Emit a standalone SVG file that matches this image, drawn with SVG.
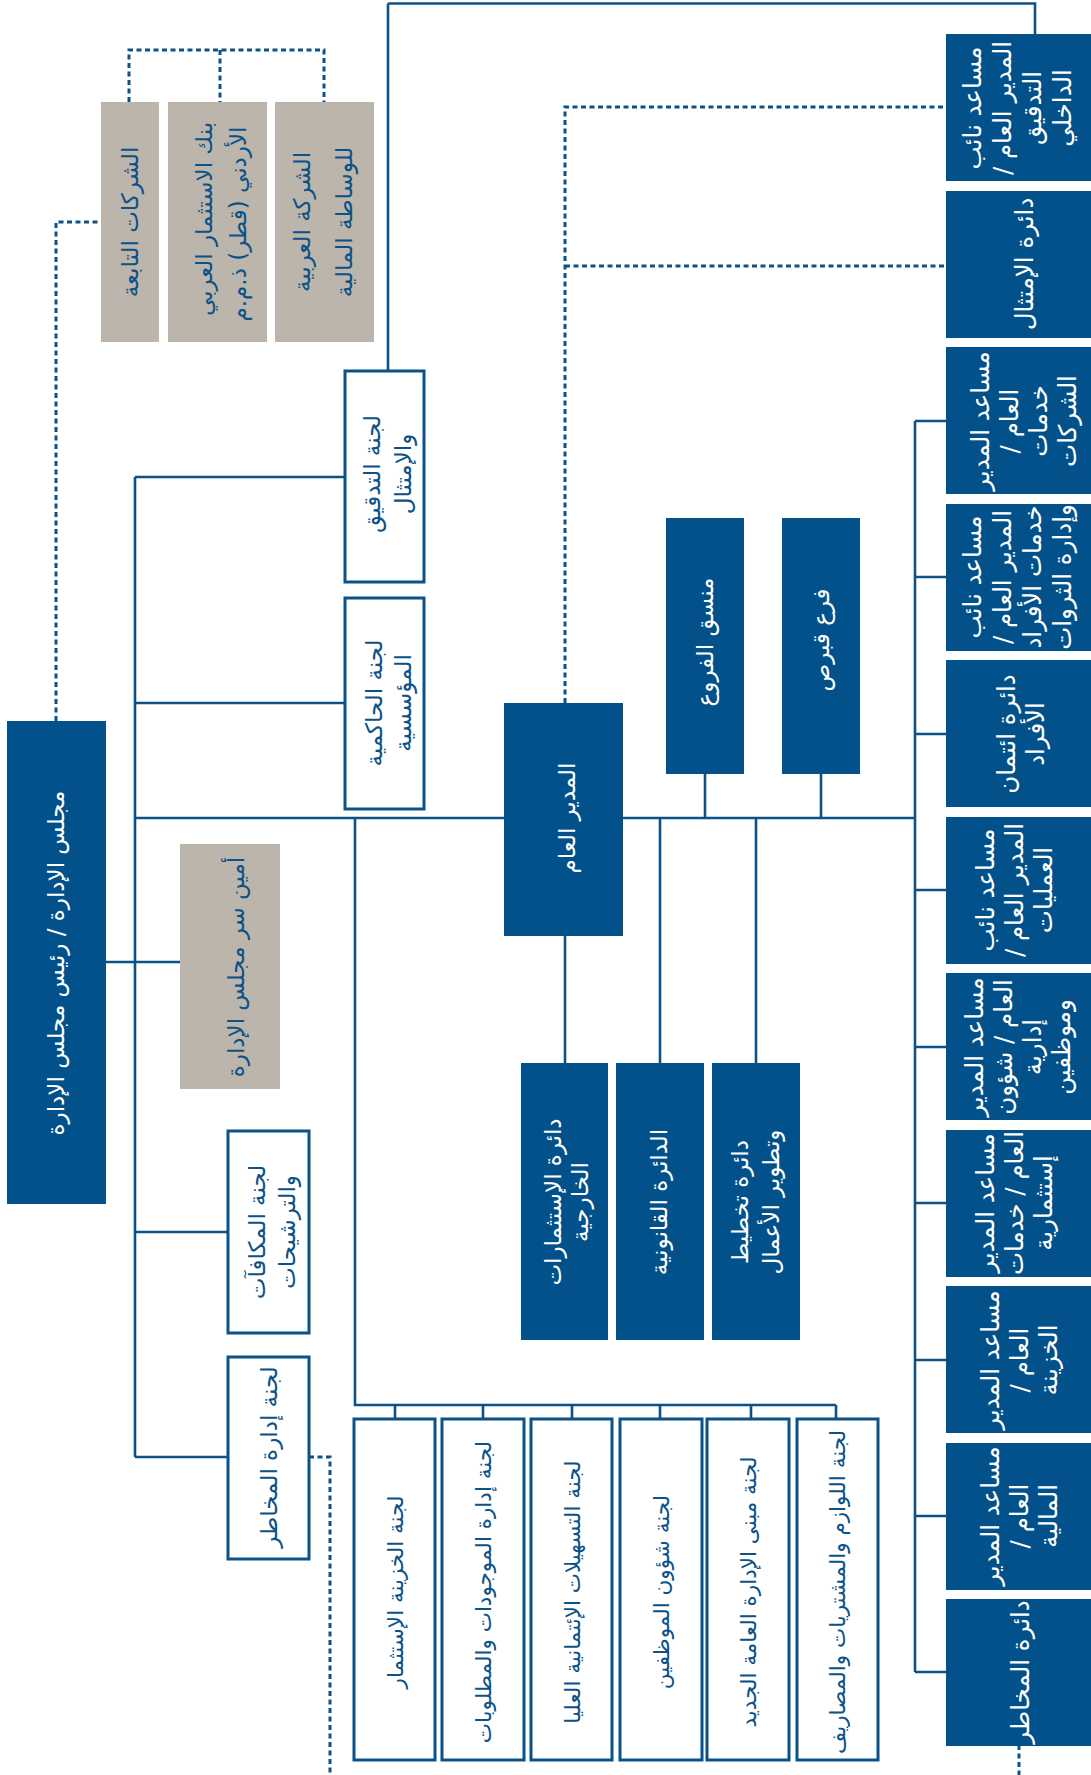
<svg xmlns="http://www.w3.org/2000/svg" width="1091" height="1775" viewBox="0 0 1091 1775">
<defs>
<style>
.navy{fill:#03518a}
.gray{fill:#bcb5ab}
.wbox{fill:#ffffff;stroke:#0b5288;stroke-width:3}
.ln{fill:none;stroke:#0b5288;stroke-width:2.6}
.dot{fill:none;stroke:#0b5288;stroke-width:3;stroke-dasharray:5 3.5}
text{font-family:"DejaVu Sans","Noto Sans",sans-serif;font-size:23px;text-anchor:middle;dominant-baseline:central;direction:rtl}
.tw{fill:#ffffff}
.tb{fill:#0b5288}
.rc{font-size:24.5px}
.mc{font-size:21.5px}
</style>
</defs>
<rect width="1091" height="1775" fill="#ffffff"/>

<g id="connectors">
<path class="ln" d="M388,3.5 H1035 V34 M388,3.5 V371"/>
<path class="ln" d="M135,477 V1457 M135,477 H345 M135,703 H345 M135,818 H504 M106,962 H180 M135,1232 H228 M135,1457 H228"/>
<path class="ln" d="M355,818 V1405 H836 M395,1405 V1419 M483,1405 V1419 M572,1405 V1419 M660,1405 V1419 M751,1405 V1419 M836,1405 V1419"/>
<path class="ln" d="M623,818 H915 M705,818 V774 M821,818 V774 M660,818 V1063 M756,818 V1063 M565,936 V1063"/>
<path class="ln" d="M915,421 V1672 M915,421 H946 M915,577 H946 M915,734 H946 M915,890 H946 M915,1047 H946 M915,1203 H946 M915,1360 H946 M915,1516 H946 M915,1672 H946"/>
<path class="dot" d="M56,721 V222 H101"/>
<path class="dot" d="M129,102 V50 H324 V102 M220,50 V102"/>
<path class="dot" d="M309,1457 H330 V1775"/>
<path class="dot" d="M565,703 V107 H946 M565,266 H946"/>
<path class="dot" d="M1019,1745 V1775"/>
</g>

<g id="chairman">
<rect class="navy" x="7" y="721" width="99" height="483"/>
<text class="tw" transform="translate(56,963) rotate(-90)">مجلس الإدارة / رئيس مجلس الإدارة</text>
</g>

<g id="subsidiaries">
<rect class="gray" x="101" y="102" width="58" height="240"/>
<text class="tb" transform="translate(130,222) rotate(-90)">الشركات التابعة</text>
</g>
<g id="jordan-bank-qatar">
<rect class="gray" x="168" y="102" width="99" height="240"/>
<text class="tb" transform="translate(204,219) rotate(-90)">بنك الاستثمار العربي</text>
<text class="tb" transform="translate(238,224) rotate(-90)">الأردني (قطر) ذ.م.م</text>
</g>
<g id="arab-brokerage">
<rect class="gray" x="275" y="102" width="99" height="240"/>
<text class="tb" transform="translate(302,222) rotate(-90)">الشركة العربية</text>
<text class="tb" transform="translate(344,222) rotate(-90)">للوساطة المالية</text>
</g>

<g id="board-secretary">
<rect class="gray" x="180" y="844" width="100" height="245"/>
<text class="tb" transform="translate(236,967) rotate(-90)">أمين سر مجلس الإدارة</text>
</g>

<g id="audit-committee">
<rect class="wbox" x="345" y="371" width="79" height="211"/>
<text class="tb" transform="translate(372,474) rotate(-90)">لجنة التدقيق</text>
<text class="tb" transform="translate(403,474) rotate(-90)">والإمتثال</text>
</g>
<g id="governance-committee">
<rect class="wbox" x="345" y="598" width="79" height="211"/>
<text class="tb" transform="translate(374,703) rotate(-90)">لجنة الحاكمية</text>
<text class="tb" transform="translate(403,703) rotate(-90)">المؤسسية</text>
</g>
<g id="remuneration-committee">
<rect class="wbox" x="228" y="1131" width="81" height="202"/>
<text class="tb" transform="translate(257,1232) rotate(-90)">لجنة المكافآت</text>
<text class="tb" transform="translate(287,1232) rotate(-90)">والترشيحات</text>
</g>
<g id="risk-committee">
<rect class="wbox" x="228" y="1357" width="81" height="202"/>
<text class="tb" transform="translate(269,1457) rotate(-90)">لجنة إدارة المخاطر</text>
</g>

<g id="general-manager">
<rect class="navy" x="504" y="703" width="119" height="233"/>
<text class="tw" transform="translate(567,818) rotate(-90)">المدير العام</text>
</g>
<g id="branches-coordinator">
<rect class="navy" x="666" y="518" width="78" height="256"/>
<text class="tw" transform="translate(705,642) rotate(-90)">منسق الفروع</text>
</g>
<g id="cyprus-branch">
<rect class="navy" x="782" y="518" width="78" height="256"/>
<text class="tw" transform="translate(821,640) rotate(-90)">فرع قبرص</text>
</g>

<g id="foreign-investments">
<rect class="navy" x="521" y="1063" width="87" height="277"/>
<text class="tw" transform="translate(553,1202) rotate(-90)">دائرة الإستثمارات</text>
<text class="tw" transform="translate(580,1202) rotate(-90)">الخارجية</text>
</g>
<g id="legal">
<rect class="navy" x="616" y="1063" width="88" height="277"/>
<text class="tw" transform="translate(659,1202) rotate(-90)">الدائرة القانونية</text>
</g>
<g id="business-planning">
<rect class="navy" x="712" y="1063" width="88" height="277"/>
<text class="tw" transform="translate(740,1202) rotate(-90)">دائرة تخطيط</text>
<text class="tw" transform="translate(771,1202) rotate(-90)">وتطوير الأعمال</text>
</g>

<g id="treasury-committee">
<rect class="wbox" x="354" y="1419" width="81" height="341"/>
<text class="tb mc" transform="translate(395,1592) rotate(-90)">لجنة الخزينة الإستثمار</text>
</g>
<g id="alco-committee">
<rect class="wbox" x="442" y="1419" width="82" height="341"/>
<text class="tb mc" transform="translate(483,1592) rotate(-90)">لجنة إدارة الموجودات والمطلوبات</text>
</g>
<g id="credit-committee">
<rect class="wbox" x="531" y="1419" width="81" height="341"/>
<text class="tb mc" transform="translate(572,1592) rotate(-90)">لجنة التسهيلات الإئتمانية العليا</text>
</g>
<g id="hr-committee">
<rect class="wbox" x="620" y="1419" width="82" height="341"/>
<text class="tb mc" transform="translate(661,1592) rotate(-90)">لجنة شؤون الموظفين</text>
</g>
<g id="building-committee">
<rect class="wbox" x="707" y="1419" width="82" height="341"/>
<text class="tb mc" transform="translate(748,1592) rotate(-90)">لجنة مبنى الإدارة العامة الجديد</text>
</g>
<g id="procurement-committee">
<rect class="wbox" x="797" y="1419" width="81" height="341"/>
<text class="tb mc" transform="translate(837,1592) rotate(-90)">لجنة اللوازم والمشتريات والمصاريف</text>
</g>

<g id="internal-audit">
<rect class="navy" x="946" y="34" width="150" height="147"/>
<text class="tw rc" transform="translate(972,108) rotate(-90)">مساعد نائب</text>
<text class="tw rc" transform="translate(1002,108) rotate(-90)">المدير العام /</text>
<text class="tw rc" transform="translate(1032,108) rotate(-90)">التدقيق</text>
<text class="tw rc" transform="translate(1062,108) rotate(-90)">الداخلي</text>
</g>
<g id="compliance">
<rect class="navy" x="946" y="191" width="150" height="147"/>
<text class="tw rc" transform="translate(1024,264) rotate(-90)">دائرة الإمتثال</text>
</g>
<g id="corporate-services">
<rect class="navy" x="946" y="347" width="150" height="147"/>
<text class="tw rc" transform="translate(980,421) rotate(-90)">مساعد المدير</text>
<text class="tw rc" transform="translate(1009,421) rotate(-90)">العام /</text>
<text class="tw rc" transform="translate(1038,421) rotate(-90)">خدمات</text>
<text class="tw rc" transform="translate(1067,421) rotate(-90)">الشركات</text>
</g>
<g id="retail-wealth">
<rect class="navy" x="946" y="504" width="150" height="147"/>
<text class="tw rc" transform="translate(972,577) rotate(-90)">مساعد نائب</text>
<text class="tw rc" transform="translate(1002,577) rotate(-90)">المدير العام /</text>
<text class="tw rc" transform="translate(1032,577) rotate(-90)">خدمات الأفراد</text>
<text class="tw rc" transform="translate(1062,577) rotate(-90)">وإدارة الثروات</text>
</g>
<g id="retail-credit">
<rect class="navy" x="946" y="660" width="150" height="147"/>
<text class="tw rc" transform="translate(1006,734) rotate(-90)">دائرة ائتمان</text>
<text class="tw rc" transform="translate(1035,734) rotate(-90)">الأفراد</text>
</g>
<g id="operations">
<rect class="navy" x="946" y="817" width="150" height="147"/>
<text class="tw rc" transform="translate(985,890) rotate(-90)">مساعد نائب</text>
<text class="tw rc" transform="translate(1014,890) rotate(-90)">المدير العام /</text>
<text class="tw rc" transform="translate(1043,890) rotate(-90)">العمليات</text>
</g>
<g id="admin-hr">
<rect class="navy" x="946" y="973" width="150" height="147"/>
<text class="tw rc" transform="translate(974,1047) rotate(-90)">مساعد المدير</text>
<text class="tw rc" transform="translate(1003,1047) rotate(-90)">العام / شؤون</text>
<text class="tw rc" transform="translate(1032,1047) rotate(-90)">إدارية</text>
<text class="tw rc" transform="translate(1061,1047) rotate(-90)">وموظفين</text>
</g>
<g id="investment-services">
<rect class="navy" x="946" y="1130" width="150" height="147"/>
<text class="tw rc" transform="translate(985,1203) rotate(-90)">مساعد المدير</text>
<text class="tw rc" transform="translate(1014,1203) rotate(-90)">العام / خدمات</text>
<text class="tw rc" transform="translate(1043,1203) rotate(-90)">إستثمارية</text>
</g>
<g id="treasury">
<rect class="navy" x="946" y="1286" width="150" height="147"/>
<text class="tw rc" transform="translate(990,1360) rotate(-90)">مساعد المدير</text>
<text class="tw rc" transform="translate(1019,1360) rotate(-90)">العام /</text>
<text class="tw rc" transform="translate(1048,1360) rotate(-90)">الخزينة</text>
</g>
<g id="finance">
<rect class="navy" x="946" y="1443" width="150" height="147"/>
<text class="tw rc" transform="translate(990,1516) rotate(-90)">مساعد المدير</text>
<text class="tw rc" transform="translate(1019,1516) rotate(-90)">العام /</text>
<text class="tw rc" transform="translate(1048,1516) rotate(-90)">المالية</text>
</g>
<g id="risk-department">
<rect class="navy" x="946" y="1599" width="150" height="147"/>
<text class="tw rc" transform="translate(1020,1672) rotate(-90)">دائرة المخاطر</text>
</g>
</svg>
